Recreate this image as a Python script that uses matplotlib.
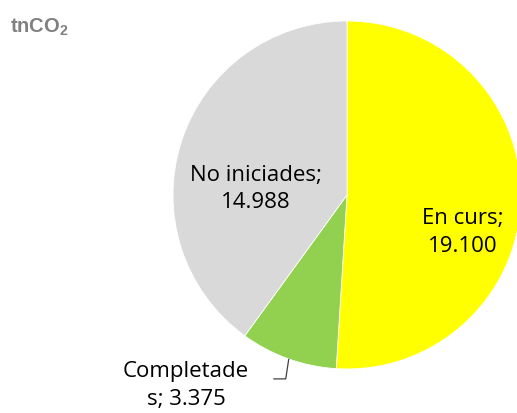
import matplotlib.pyplot as plt

# ===== data =====
categories = ['En curs', 'Completades', 'No iniciades']
values = [19.100, 3.375, 14.988]
value_labels = ['19.100', '3.375', '14.988']
colors = ['#FFFF00', '#92D050', '#D9D9D9']

plt.rcParams['font.family'] = ['Open Sans', 'DejaVu Sans']

fig = plt.figure(figsize=(5.17, 4.14), dpi=100)
ax = fig.add_axes([0.3346, 0.1063, 0.6731, 0.8406])

wedges, _ = ax.pie(values, colors=colors, startangle=90, counterclock=False,
                   radius=1.0, wedgeprops=dict(linewidth=0.6, edgecolor='white'))
ax.set_xlim(-1, 1)
ax.set_ylim(-1, 1)
ax.set_aspect('equal')
ax.axis('off')

fs = 16
ax.text(0.667, -0.21, f"{categories[0]};\n{value_labels[0]}", ha='center', va='center',
        fontsize=fs, linespacing=1.4)
ax.text(-0.523, 0.04, f"{categories[2]};\n{value_labels[2]}", ha='center', va='center',
        fontsize=fs, linespacing=1.4)
# label split as in the original
ax.text(-0.925, -1.09, "Completade\ns; " + value_labels[1], ha='center', va='center',
        fontsize=fs, linespacing=1.4, clip_on=False)
ax.plot([-0.335, -0.352, -0.42], [-0.945, -1.057, -1.057], color='#404040',
        lw=0.9, clip_on=False)

fig.text(0.02, 0.92, 'tnCO$_\\mathregular{2}$', fontsize=14.5, fontweight='bold',
         color='#808080', family=['Liberation Sans', 'DejaVu Sans'])

fig.savefig('out.png', dpi=100)
